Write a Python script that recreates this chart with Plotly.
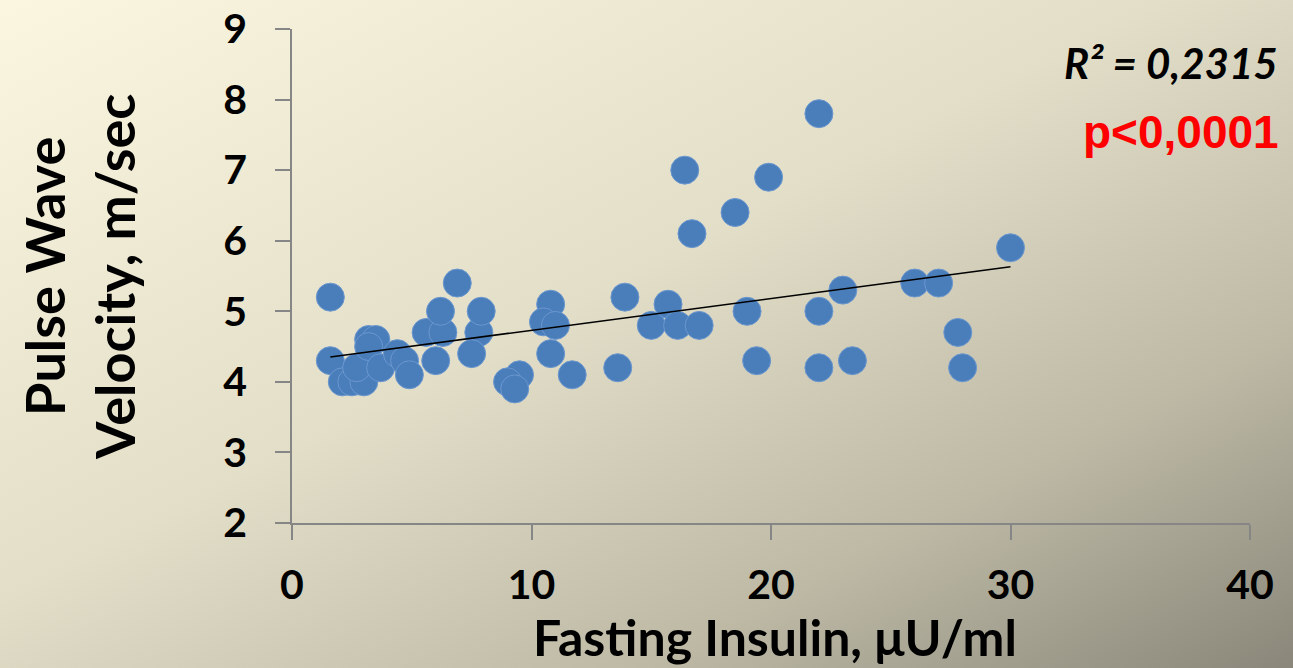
import base64
import numpy as np
import plotly.graph_objects as go

# ---- data ----
insulin = [1.6, 1.6, 2.1, 2.5, 3.0, 2.7, 3.2, 3.5, 3.2, 3.7, 4.4, 4.7, 4.9,
           5.6, 6.3, 6.2, 6.9, 6.0, 7.8, 7.9, 7.5, 9.5, 9.0, 9.3,
           10.8, 10.5, 11.0, 10.8, 11.7, 13.6, 13.9, 15.0, 15.7, 16.1, 17.0,
           16.4, 16.7, 18.5, 19.0, 19.4, 19.9, 22.0, 22.0, 22.0, 23.0, 23.4,
           26.0, 27.0, 27.8, 28.0, 30.0]
pwv = [5.2, 4.3, 4.0, 4.0, 4.0, 4.2, 4.6, 4.6, 4.5, 4.2, 4.4, 4.3, 4.1,
       4.7, 4.7, 5.0, 5.4, 4.3, 4.7, 5.0, 4.4, 4.1, 4.0, 3.9,
       5.1, 4.85, 4.8, 4.4, 4.1, 4.2, 5.2, 4.8, 5.1, 4.8, 4.8,
       7.0, 6.1, 6.4, 5.0, 4.3, 6.9, 7.8, 5.0, 4.2, 5.3, 4.3,
       5.4, 5.4, 4.7, 4.2, 5.9]
x_ticks = [0, 10, 20, 30, 40]
y_ticks = [2, 3, 4, 5, 6, 7, 8, 9]
r2_text = "R² = 0,2315"
p_text = "p<0,0001"
x_title = "Fasting Insulin, \u03bcU/ml"
y_title = "Pulse Wave<br>Velocity, m/sec"

# ---- layout geometry ----
W, H = 1293, 668
L, R, T, B = 292, 43, 29, 145
pw, ph = W - L - R, H - T - B

def px_x(p):
    return (p - L) / pw

def px_y(p):
    return 1 - (p - T) / ph

# linear trend line via least squares
slope, intercept = np.polyfit(insulin, pwv, 1)
xl = np.array([min(insulin), max(insulin)])
yl = slope * xl + intercept

# gradient background as svg
svg = f'''<svg xmlns="http://www.w3.org/2000/svg" width="{W}" height="{H}" viewBox="0 0 {W} {H}" preserveAspectRatio="none">
<defs><linearGradient id="g" x1="0" y1="0" x2="1" y2="1">
<stop offset="0" stop-color="#faf6e0"/>
<stop offset="0.45" stop-color="#e2dec8"/>
<stop offset="0.75" stop-color="#bdb9a5"/>
<stop offset="1" stop-color="#8a877a"/>
</linearGradient></defs>
<rect width="{W}" height="{H}" fill="url(#g)"/></svg>'''
bg = "data:image/svg+xml;base64," + base64.b64encode(svg.encode()).decode()

fig = go.Figure()
fig.add_trace(go.Scatter(
    x=insulin, y=pwv, mode="markers",
    marker=dict(size=28, color="#4a7ebb", line=dict(width=1, color="#6b97cf")),
    showlegend=False, hoverinfo="skip"))
fig.add_trace(go.Scatter(
    x=xl, y=yl, mode="lines", line=dict(color="black", width=1.6),
    showlegend=False, hoverinfo="skip"))

axis_common = dict(
    showgrid=False, zeroline=False, showline=True, linecolor="#868686",
    linewidth=1.5, ticks="outside", ticklen=15, tickcolor="#868686",
    tickwidth=1.5, automargin=False,
    tickfont=dict(family="Lato", size=41, color="black", weight="bold"),
)

fig.update_layout(
    template="none",
    width=W, height=H,
    margin=dict(l=L, r=R, t=T, b=B, pad=0, autoexpand=False),
    paper_bgcolor="#d8d4bf", plot_bgcolor="rgba(0,0,0,0)",
    images=[dict(source=bg, xref="paper", yref="paper",
                 x=px_x(0), y=px_y(0), sizex=W / pw, sizey=H / ph,
                 xanchor="left", yanchor="top", sizing="stretch",
                 layer="below")],
    xaxis=dict(range=[0, 40], tickvals=x_ticks, ticklabelstandoff=10,
               **axis_common),
    yaxis=dict(range=[2, 9], tickvals=y_ticks, ticklabelstandoff=20,
               **axis_common),
    annotations=[
        dict(text=r2_text, xref="paper", yref="paper", x=px_x(1280), y=px_y(63),
             xanchor="right", yanchor="middle", showarrow=False,
             font=dict(family="Lato", size=42, color="black", weight="bold",
                       style="italic")),
        dict(text=p_text, xref="paper", yref="paper", x=px_x(1281), y=px_y(132),
             xanchor="right", yanchor="middle", showarrow=False,
             font=dict(family="Liberation Sans", size=46, color="#ff0000",
                       weight="bold")),
        dict(text=x_title, xref="paper", yref="paper", x=px_x(775), y=px_y(637),
             xanchor="center", yanchor="middle", showarrow=False,
             font=dict(family="Lato", size=50, color="black", weight="bold")),
        dict(text=y_title, xref="paper", yref="paper", x=px_x(79), y=px_y(277),
             xanchor="center", yanchor="middle", showarrow=False, textangle=-90,
             font=dict(family="Lato", size=54, color="black", weight="bold")),
    ],
)

fig.write_html("out.html")
